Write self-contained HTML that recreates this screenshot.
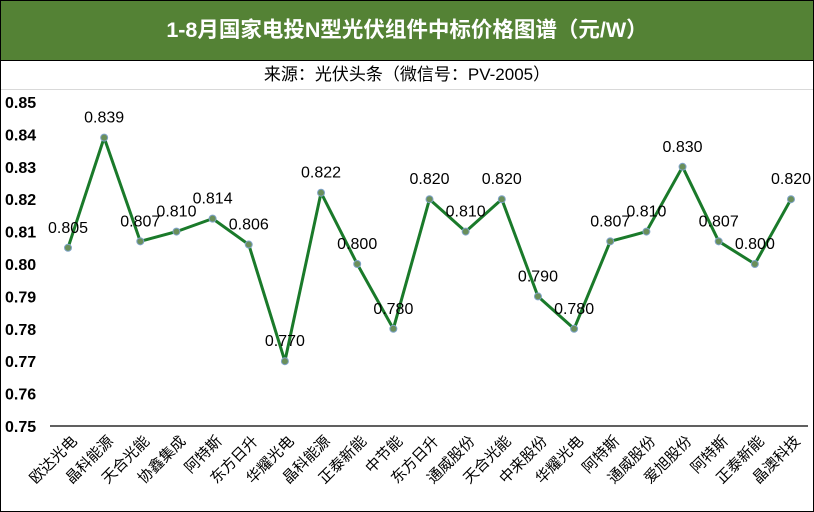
<!DOCTYPE html>
<html><head><meta charset="utf-8"><style>
body{margin:0;width:814px;height:512px;overflow:hidden;background:#fff;font-family:"Liberation Sans","Noto Sans CJK SC",sans-serif}
#frame{position:absolute;left:0;top:0;width:812px;height:510px;border:1px solid #000}
#title{position:absolute;left:1px;top:1px;width:812px;height:59px;background:#548235;color:#fff;font-weight:bold;font-size:21.5px;text-align:center;line-height:59px;border-bottom:1px solid #000}
#sub{position:absolute;left:1px;top:61px;width:812px;height:28px;text-align:center;line-height:28px;font-size:17px;color:#000;border-bottom:1px solid #d9d9d9}
svg{position:absolute;left:0;top:0}
</style></head><body>
<div id="frame"></div>
<div id="title">1-8月国家电投N型光伏组件中标价格图谱（元/W）</div>
<div id="sub">来源：光伏头条（微信号：PV-2005）</div>
<svg id="chart" width="814" height="512"></svg>
<script>
const categories=["欧达光电","晶科能源","天合光能","协鑫集成","阿特斯","东方日升","华耀光电","晶科能源","正泰新能","中节能","东方日升","通威股份","天合光能","中来股份","华耀光电","阿特斯","通威股份","爱旭股份","阿特斯","正泰新能","晶澳科技"];
const values=[0.805,0.839,0.807,0.810,0.814,0.806,0.770,0.822,0.800,0.780,0.820,0.810,0.820,0.790,0.780,0.807,0.810,0.830,0.807,0.800,0.820];
const yTicks=[0.75,0.76,0.77,0.78,0.79,0.80,0.81,0.82,0.83,0.84,0.85];
const svg=document.getElementById('chart');const NS='http://www.w3.org/2000/svg';
const y=v=>426-(v-0.75)/0.10*324;
const x=i=>68+i*(791-68)/(categories.length-1);
function mk(t,a){const e=document.createElementNS(NS,t);for(const k in a)e.setAttribute(k,a[k]);svg.appendChild(e);return e;}
yTicks.forEach(t=>{const e=mk('text',{x:5,y:y(t)+6,'font-size':16,'font-weight':'bold',fill:'#000'});e.textContent=t.toFixed(2);

});
const ax=mk('line',{x1:50,x2:808,y1:426,y2:426,stroke:'#000','stroke-width':1.2});


const pl=mk('polyline',{points:values.map((v,i)=>x(i)+','+y(v)).join(' '),fill:'none',stroke:'#1a7a2a','stroke-width':3,'stroke-linejoin':'round'});


values.forEach((v,i)=>{
const c=mk('circle',{cx:x(i),cy:y(v),r:3.5,fill:'#6a8f5a',stroke:'#7fa3c8','stroke-width':1});


const t=mk('text',{x:x(i),y:y(v)-15,'text-anchor':'middle','font-size':16,fill:'#000'});t.textContent=v.toFixed(3);


const l=mk('text',{x:0,y:0,'text-anchor':'end','font-size':15,fill:'#000',transform:`translate(${x(i)+10},${442}) rotate(-45)`});l.textContent=categories[i];


});
</script>
</body></html>
